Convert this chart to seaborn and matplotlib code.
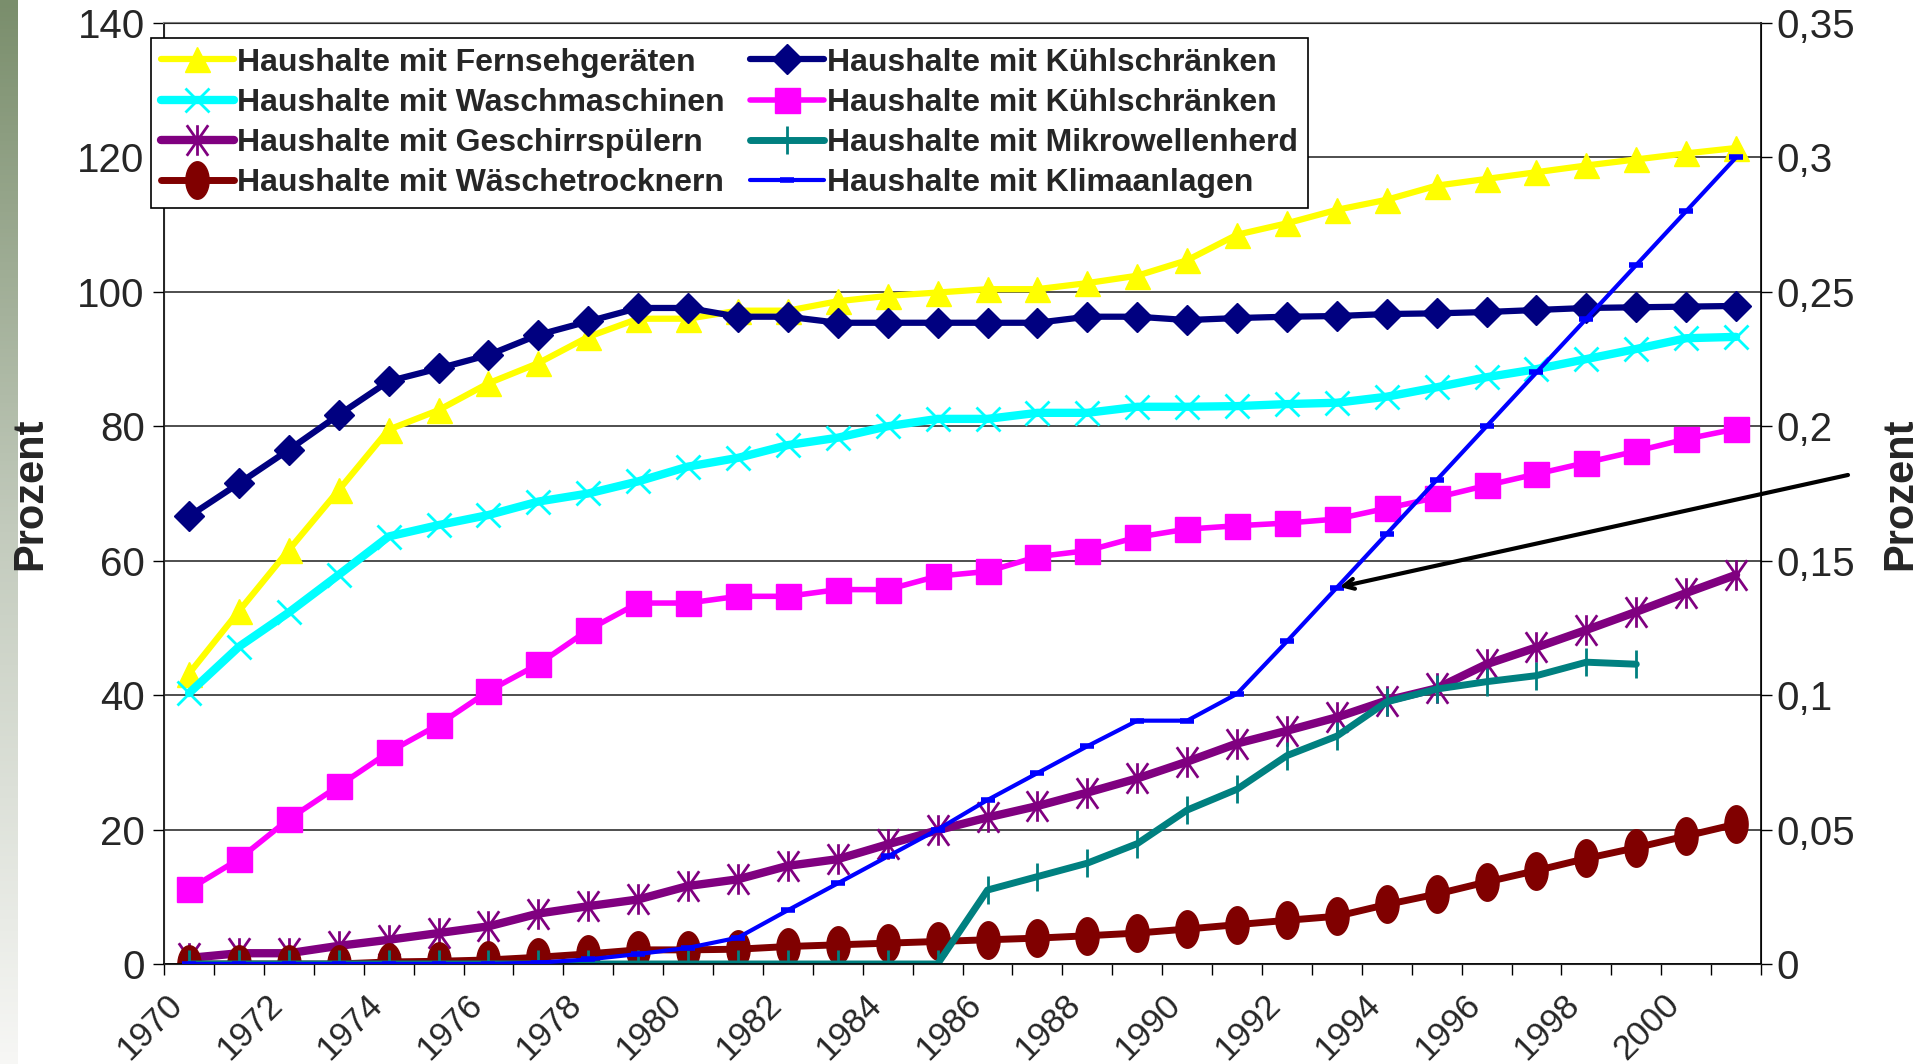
import numpy as np
import pandas as pd
import seaborn as sns
import matplotlib.pyplot as plt
from matplotlib.path import Path
from matplotlib.colors import LinearSegmentedColormap

# Daten
jahre = list(range(1970, 2002))
fernseher = [43.2, 52.5, 61.6, 70.5, 79.5, 82.4, 86.4, 89.4, 93.3, 96.0,
             96.0, 97.2, 97.2, 98.6, 99.4, 99.9, 100.4, 100.4, 101.3, 102.4,
             104.7, 108.5, 110.2, 112.2, 113.7, 115.8, 116.8, 117.8, 118.8, 119.7,
             120.6, 121.4]
waschmaschinen = [40.3, 47.2, 52.3, 57.9, 63.6, 65.3, 66.8, 68.8, 70.0, 71.8,
                  74.0, 75.3, 77.2, 78.3, 80.0, 81.1, 81.1, 82.0, 82.0, 82.9,
                  82.9, 83.0, 83.3, 83.5, 84.4, 85.8, 87.3, 88.5, 90.0, 91.5,
                  93.1, 93.3]
geschirr = [0.9, 1.6, 1.6, 2.7, 3.6, 4.6, 5.6, 7.5, 8.6, 9.6,
            11.6, 12.6, 14.6, 15.6, 17.8, 19.9, 21.8, 23.5, 25.5, 27.6,
            30.1, 32.8, 34.7, 36.7, 39.2, 41.0, 44.6, 47.1, 49.7, 52.4,
            55.2, 57.9]
trockner = [0, 0, 0, 0, 0.3, 0.4, 0.6, 1.0, 1.5, 2.1,
            2.1, 2.2, 2.6, 2.85, 3.1, 3.35, 3.6, 3.85, 4.2, 4.6,
            5.2, 5.85, 6.5, 7.1, 8.85, 10.4, 12.2, 13.9, 15.7, 17.3,
            19.05, 20.8]
kuehl_1 = [66.6, 71.5, 76.5, 81.7, 86.7, 88.6, 90.6, 93.6, 95.6, 97.6,
           97.6, 96.3, 96.3, 95.4, 95.4, 95.4, 95.4, 95.4, 96.3, 96.3,
           95.8, 96.1, 96.3, 96.4, 96.7, 96.8, 97.0, 97.3, 97.6, 97.7,
           97.8, 97.9]
kuehl_2 = [11.1, 15.6, 21.55, 26.5, 31.5, 35.6, 40.6, 44.6, 49.7, 53.7,
           53.7, 54.7, 54.7, 55.7, 55.7, 57.7, 58.4, 60.6, 61.5, 63.5,
           64.7, 65.2, 65.6, 66.2, 67.8, 69.4, 71.2, 72.9, 74.6, 76.3,
           78.1, 79.6]
mikrowelle = [0, 0, 0, 0, 0, 0, 0, 0, 0, 0,
              0, 0, 0, 0, 0, 0, 11.0, 13.0, 15.0, 17.9,
              22.9, 26.0, 31.0, 33.9, 39.0, 40.9, 42.0, 42.9, 44.9, 44.6,
              np.nan, np.nan]
# Klimaanlagen auf der rechten Achse
klima = [0, 0, 0, 0, 0, 0, 0, 0.0005, 0.0017, 0.0037,
         0.006, 0.0098, 0.02, 0.03, 0.04, 0.05, 0.061, 0.071, 0.081, 0.0905,
         0.0905, 0.1005, 0.12, 0.14, 0.16, 0.18, 0.2, 0.22, 0.24, 0.26,
         0.28, 0.3]

links_ticks = [0, 20, 40, 60, 80, 100, 120, 140]
rechts_ticks = [0, 0.05, 0.1, 0.15, 0.2, 0.25, 0.3, 0.35]
rechts_labels = ['0', '0,05', '0,1', '0,15', '0,2', '0,25', '0,3', '0,35']

df = pd.DataFrame({'pos': range(len(jahre)), 'jahr': jahre,
                   'fernseher': fernseher, 'wasch': waschmaschinen,
                   'geschirr': geschirr, 'trockner': trockner,
                   'kuehl1': kuehl_1, 'kuehl2': kuehl_2,
                   'mikro': mikrowelle, 'klima': klima})

sns.set_style('white')
plt.rcParams['font.family'] = ['Liberation Sans', 'DejaVu Sans']

# Marker im Excel-Stil
t = np.linspace(0, 2 * np.pi, 40)
ellipse = list(zip(0.62 * np.cos(t), np.sin(t)))
stern = Path([(0, -1), (0, 1), (-0.7, -1), (0.7, 1), (-0.7, 1), (0.7, -1)],
             [Path.MOVETO, Path.LINETO, Path.MOVETO, Path.LINETO, Path.MOVETO, Path.LINETO])

serien = [
    ('fernseher', 'Haushalte mit Fernsehgeräten', '#FFFF00', '^', 18, 4.5, 1),
    ('wasch', 'Haushalte mit Waschmaschinen', '#00FFFF', 'x', 17, 6, 2),
    ('geschirr', 'Haushalte mit Geschirrspülern', '#800080', stern, 22, 6, 2),
    ('trockner', 'Haushalte mit Wäschetrocknern', '#800000', ellipse, 27, 5, 1),
    ('kuehl1', 'Haushalte mit Kühlschränken', '#000080', 'D', 15, 4.5, 1),
    ('kuehl2', 'Haushalte mit Kühlschränken', '#FF00FF', 's', 18, 4, 1),
    ('mikro', 'Haushalte mit Mikrowellenherd', '#008080', '|', 20, 5, 2),
]

fig = plt.figure(figsize=(19.28, 10.64), dpi=100)

# gruener Balken links
cmap = LinearSegmentedColormap.from_list('rand', ['#7a8e6c', '#c3cbbd', '#f7f7f5'])
bar = fig.add_axes([0, 0, 0.009, 1])
bar.imshow(np.linspace(0, 1, 256).reshape(-1, 1), aspect='auto', cmap=cmap)
bar.axis('off')

ax = fig.add_axes([0.0851, 0.094, 0.8283, 0.8844])
ax2 = ax.twinx()

for col, label, farbe, marker, ms, lw, mew in serien:
    sns.lineplot(data=df, x='pos', y=col, ax=ax, color=farbe, marker=marker,
                 markersize=ms, linewidth=lw, markeredgewidth=mew, linestyle='-',
                 markeredgecolor=farbe, markerfacecolor=farbe, errorbar=None)

sns.lineplot(data=df, x='pos', y='klima', ax=ax2, color='#0000FF', marker='_',
             markersize=10, linewidth=3, markeredgewidth=4, linestyle='-',
             markeredgecolor='#0000FF', errorbar=None)

# Achsen
ax.set_xlim(-0.5, len(jahre) - 0.5)
ax.set_ylim(0, 140)
ax2.set_ylim(0, 0.35)
ax.set_yticks(links_ticks)
ax.set_yticklabels([str(v) for v in links_ticks])
ax2.set_yticks(rechts_ticks)
ax2.set_yticklabels(rechts_labels)
ax.set_xticks(range(0, len(jahre), 2))
ax.set_xticklabels([str(j) for j in jahre[::2]], rotation=45, ha='right')
ax.set_xticks(np.arange(-0.5, len(jahre), 1), minor=True)
ax.set_xlabel('')
ax.set_ylabel('')
ax2.set_ylabel('')

ax.tick_params(axis='x', which='major', length=0, labelsize=25, pad=17)
ax.tick_params(axis='x', which='minor', bottom=True, length=8, width=1, color='black')
ax.tick_params(axis='y', left=True, length=8, width=1, color='black', labelsize=29, pad=6)
ax2.tick_params(axis='y', right=True, length=8, width=1, color='black', labelsize=29, pad=3)

ax.yaxis.grid(True, color='#303030', linewidth=1.2)
ax.set_axisbelow(True)
for s in ['left', 'bottom']:
    ax.spines[s].set_color('black')
    ax.spines[s].set_linewidth(1.2)
ax.spines['top'].set_color('#808080')
ax.spines['top'].set_linewidth(1.5)
ax2.spines['right'].set_color('black')
ax2.spines['right'].set_linewidth(1.2)

fig.text(0.0156, 0.536, 'Prozent', rotation=90, ha='center', va='center',
         fontsize=30, fontweight='bold')
fig.text(0.9855, 0.536, 'Prozent', rotation=90, ha='center', va='center',
         fontsize=30, fontweight='bold')

# Pfeil auf die Klimaanlagen
ax2.annotate('', xy=(23, klima[23]), xycoords='data', xytext=(0.9585, 0.5536),
             textcoords='figure fraction', annotation_clip=False,
             arrowprops=dict(arrowstyle='->', color='black', lw=3,
                             shrinkA=0, shrinkB=2, mutation_scale=18))

# Legende
handles = ax.get_lines() + ax2.get_lines()
labels = [s[1] for s in serien] + ['Haushalte mit Klimaanlagen']
leg = ax2.legend(handles, labels, ncol=2, loc='upper left',
                 bbox_to_anchor=(0.0783, 0.9643), bbox_transform=fig.transFigure,
                 prop={'weight': 'bold', 'size': 23}, frameon=True, fancybox=False,
                 edgecolor='black', framealpha=1, borderpad=0.3, handlelength=2.3,
                 handletextpad=0.1, columnspacing=0.8, labelspacing=0.32,
                 borderaxespad=0)
leg.get_frame().set_linewidth(1.2)

plt.savefig('out.png', dpi=100)
